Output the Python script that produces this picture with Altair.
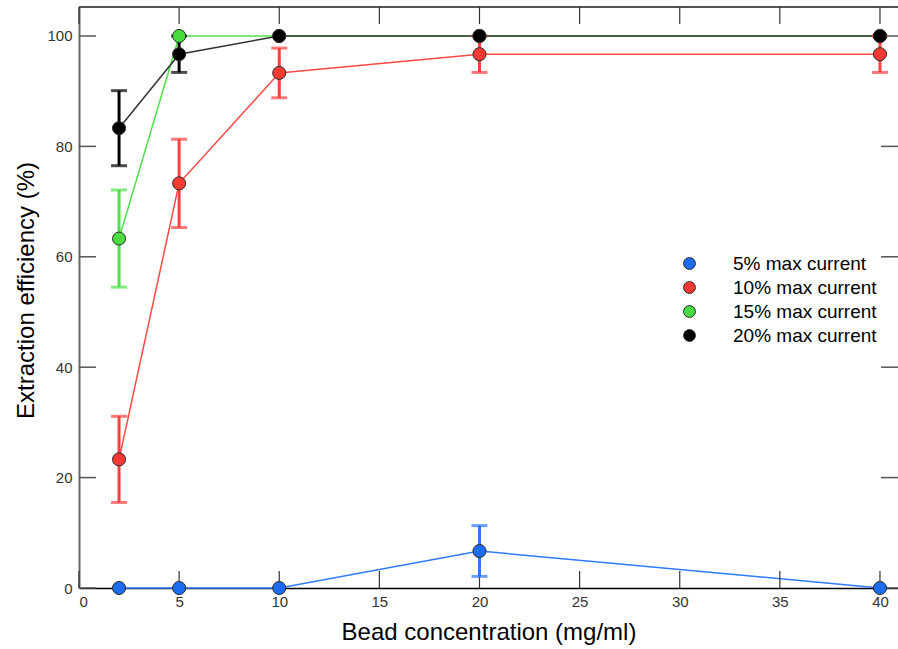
import altair as alt
import pandas as pd

# ---- data ----
conc = [2, 5, 10, 20, 40]
series = ["5% max current", "10% max current", "15% max current", "20% max current"]

eff_5 = [0, 0, 0, 6.7, 0]
err_5 = [0, 0, 0, 4.6, 0]
eff_10 = [23.3, 73.3, 93.3, 96.7, 96.7]
err_10 = [7.8, 8.0, 4.5, 3.3, 3.3]
eff_15 = [63.3, 100, 100, 100, 100]
err_15 = [8.8, 0, 0, 0, 0]
eff_20 = [83.3, 96.7, 100, 100, 100]
err_20 = [6.8, 3.3, 0, 0, 0]

x_ticks = [0, 5, 10, 15, 20, 25, 30, 35, 40]
y_ticks = [0, 20, 40, 60, 80, 100]

marker_colors = ["#1c6cf2", "#f93a33", "#47dd3f", "#000000"]
line_colors = ["#2f7bff", "#ff4a44", "#4fe04a", "#333333"]
bar_colors = ["#2a78ff", "#ff4040", "#4ee24a", "#000000"]

FONT = "Liberation Sans"
W, H = 819, 581
TICK = 17

rows = []
for name, effs, errs in zip(series, [eff_5, eff_10, eff_15, eff_20], [err_5, err_10, err_15, err_20]):
    for c, e, r in zip(conc, effs, errs):
        rows.append({"series": name, "conc": c, "eff": e, "err": r, "lo": e - r, "hi": e + r})
df = pd.DataFrame(rows)
df_err = df[df["err"] > 0].reset_index(drop=True)

xscale = alt.Scale(domain=[0, 40.9], nice=False, zero=False)
yscale = alt.Scale(domain=[0, 105.25], nice=False, zero=False)

x_enc = alt.X(
    "conc:Q", scale=xscale,
    axis=alt.Axis(
        values=x_ticks, format="d", ticks=False, grid=False,
        domainColor="#000000", domainWidth=1.5,
        labelFont=FONT, labelFontSize=15, labelColor="#333333", labelPadding=6,
        title="Bead concentration (mg/ml)", titleFont=FONT, titleFontSize=24,
        titleFontWeight="normal", titleColor="#000000",
        titleBaseline="alphabetic", titleY=51,
    ),
)
y_enc = alt.Y(
    "eff:Q", scale=yscale,
    axis=alt.Axis(
        values=y_ticks, format="d", ticks=False, grid=False,
        domainColor="#666666", domainWidth=2,
        labelFont=FONT, labelFontSize=15, labelColor="#333333", labelPadding=7,
        title="Extraction efficiency (%)", titleFont=FONT, titleFontSize=24,
        titleFontWeight="normal", titleColor="#000000",
        titleAngle=-90, titleBaseline="alphabetic", titleAlign="center",
        titleX=-46, titleY=283,
    ),
)

base = alt.Chart(df)

lines = base.mark_line(strokeWidth=1.5).encode(
    x=x_enc, y=y_enc,
    color=alt.Color("series:N", scale=alt.Scale(domain=series, range=line_colors), legend=None),
    detail="series:N",
)

bars = alt.Chart(df_err).mark_rule(strokeWidth=3).encode(
    x=alt.X("conc:Q", scale=xscale),
    y=alt.Y("lo:Q", scale=yscale),
    y2="hi:Q",
    color=alt.Color("series:N", scale=alt.Scale(domain=series, range=bar_colors), legend=None),
)

caps = alt.Chart(df_err).transform_fold(["lo", "hi"], as_=["end", "val"]).mark_tick(
    orient="horizontal", size=16, thickness=3
).encode(
    x=alt.X("conc:Q", scale=xscale),
    y=alt.Y("val:Q", scale=yscale),
    color=alt.Color("series:N", scale=alt.Scale(domain=series, range=bar_colors), legend=None),
)

points = base.mark_circle(size=170, opacity=1, stroke="#2a2a2a", strokeWidth=1).encode(
    x=alt.X("conc:Q", scale=xscale),
    y=alt.Y("eff:Q", scale=yscale),
    color=alt.Color(
        "series:N",
        scale=alt.Scale(domain=series, range=marker_colors),
        legend=alt.Legend(
            title=None, orient="none", legendX=601, legendY=247,
            symbolType="circle", symbolSize=140, symbolStrokeColor="#2a2a2a",
            symbolStrokeWidth=1, symbolOpacity=1,
            labelFont=FONT, labelFontSize=19, labelColor="#000000",
            labelOffset=34, rowPadding=4,
        ),
    ),
)

xt = pd.DataFrame({"t": x_ticks})
yt = pd.DataFrame({"t": y_ticks})

xt_bottom = alt.Chart(xt).mark_rule(color="#333333", strokeWidth=1.2).encode(
    x=alt.X("t:Q", scale=xscale), y=alt.value(H), y2=alt.value(H - TICK)
)
xt_top = alt.Chart(xt).mark_rule(color="#333333", strokeWidth=1.2).encode(
    x=alt.X("t:Q", scale=xscale), y=alt.value(0), y2=alt.value(TICK)
)
yt_left = alt.Chart(yt).mark_rule(color="#555555", strokeWidth=1.5).encode(
    y=alt.Y("t:Q", scale=yscale), x=alt.value(0), x2=alt.value(TICK)
)
yt_right = alt.Chart(yt).mark_rule(color="#555555", strokeWidth=1.5).encode(
    y=alt.Y("t:Q", scale=yscale), x=alt.value(W), x2=alt.value(W - TICK)
)
# top frame line (the right frame edge lies outside the picture in the reference)
frame_top = alt.Chart(xt).mark_rule(color="#555555", strokeWidth=1.5).encode(
    x=alt.value(0), x2=alt.value(W), y=alt.value(0)
)

chart = alt.layer(
    lines, frame_top, xt_bottom, xt_top, yt_left, yt_right, bars, caps, points
).resolve_scale(color="independent").properties(
    width=W, height=H,
    padding={"left": 79, "top": 7, "right": 0, "bottom": 61},
    autosize=alt.AutoSizeParams(type="none"),
    background="white",
).configure_view(strokeOpacity=0)

chart.save("out.html", embed_options={"renderer": "svg", "actions": False})
